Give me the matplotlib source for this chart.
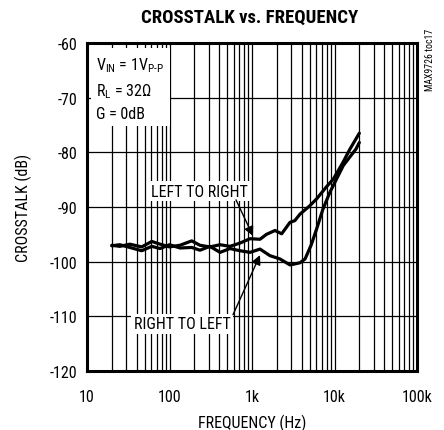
import matplotlib
matplotlib.use("Agg")
import matplotlib.pyplot as plt
from matplotlib.ticker import FixedLocator, NullFormatter

plt.rcParams['font.family'] = ['Roboto Condensed', 'Archivo Narrow', 'Liberation Sans', 'DejaVu Sans']
plt.rcParams['axes.unicode_minus'] = False
plt.rcParams['mathtext.fontset'] = 'custom'
plt.rcParams['mathtext.rm'] = 'Roboto Condensed'
plt.rcParams['mathtext.it'] = 'Roboto Condensed'

# Data (frequency in Hz, crosstalk in dB)
freq_lr = [20, 25, 33, 46, 61, 77, 100, 134, 186, 234, 309, 410, 540, 715, 946,
           1250, 1500, 1900, 2290, 2890, 3300, 3820, 5000, 6080, 8000, 9670,
           12500, 15400, 20000]
db_lr = [-97.0, -97.2, -96.8, -97.3, -96.3, -96.8, -97.3, -97.0, -96.2, -97.0,
         -97.3, -96.9, -97.2, -96.6, -95.8, -95.9, -95.0, -94.3, -94.9, -92.8,
         -92.5, -91.3, -89.8, -88.5, -86.3, -84.9, -82.0, -79.4, -76.5]

freq_rl = [20, 25, 33, 46, 61, 77, 100, 134, 186, 234, 309, 410, 540, 715, 946,
           1250, 1650, 2180, 2890, 3820, 4400, 5200, 6080, 7200, 8800, 12800,
           18200, 20000]
db_rl = [-97.1, -96.9, -97.4, -98.0, -97.2, -97.6, -96.9, -97.5, -97.4, -97.9,
         -97.2, -98.3, -97.6, -98.0, -98.3, -97.7, -98.9, -99.5, -100.6, -100.2,
         -99.5, -97.0, -94.0, -90.5, -87.3, -82.4, -79.4, -78.2]

xticks = [10, 100, 1000, 10000, 100000]
xtick_labels = ['10', '100', '1k', '10k', '100k']
yticks = [-120, -110, -100, -90, -80, -70, -60]

fig = plt.figure(figsize=(4.44, 4.31), dpi=100)
ax = fig.add_axes([87/444, 1-372/431, 330/444, 328/431])

ax.set_xscale('log')
ax.set_xlim(10, 100000)
ax.set_ylim(-120, -60)

# grid
minor = [m * 10**d for d in range(1, 5) for m in range(2, 10)]
for f in minor + xticks[1:-1]:
    ax.axvline(f, color='black', lw=0.9, zorder=1)
for y in yticks[1:-1]:
    ax.axhline(y, color='black', lw=0.9, zorder=1)

ax.plot(freq_lr, db_lr, color='black', lw=2.3, zorder=4, solid_capstyle='round')
ax.plot(freq_rl, db_rl, color='black', lw=2.3, zorder=4, solid_capstyle='round')

ax.set_xticks(xticks)
ax.set_xticklabels(xtick_labels)
ax.xaxis.set_minor_locator(FixedLocator(minor))
ax.xaxis.set_minor_formatter(NullFormatter())
ax.set_yticks(yticks)
ax.tick_params(axis='both', which='both', length=0, labelsize=11.5)
ax.tick_params(axis='x', pad=13)
ax.tick_params(axis='y', pad=7)
for s in ax.spines.values():
    s.set_linewidth(2.2)
    s.set_zorder(6)

ax.set_xlabel('FREQUENCY (Hz)', fontsize=11.5, labelpad=7)
ax.set_ylabel('CROSSTALK (dB)', fontsize=11.5, labelpad=13)

fig.text(250/444, 1-18/431, 'CROSSTALK vs. FREQUENCY', fontsize=13.5,
         fontweight='bold', ha='center', va='center',
         family=['Roboto Condensed', 'Barlow Condensed', 'Archivo Narrow', 'DejaVu Sans'])

# condition box
ax.text(0.028, 0.962,
        '$\\mathregular{V_{IN}}$ = 1$\\mathregular{V_{P\\text{-}P}}$\n'
        '$\\mathregular{R_L}$ = 32\u03a9\nG = 0dB',
        transform=ax.transAxes, fontsize=11.5, va='top', ha='left',
        linespacing=1.5, zorder=5,
        bbox=dict(facecolor='white', edgecolor='none', pad=4))

# annotations
ax.text(228, -87.1, 'LEFT TO RIGHT', fontsize=11.5, ha='center', va='center',
        zorder=5, bbox=dict(facecolor='white', edgecolor='none', pad=2))
ax.annotate('', xy=(1028, -95.3), xytext=(640, -88.7), zorder=5,
            arrowprops=dict(arrowstyle='-|>', color='black', lw=1.0,
                            mutation_scale=14, shrinkA=0, shrinkB=0))
ax.text(142, -111.4, 'RIGHT TO LEFT', fontsize=11.5, ha='center', va='center',
        zorder=5, bbox=dict(facecolor='white', edgecolor='none', pad=2))
ax.annotate('', xy=(1250, -98.8), xytext=(589, -109.7), zorder=5,
            arrowprops=dict(arrowstyle='-|>', color='black', lw=1.0,
                            mutation_scale=14, shrinkA=0, shrinkB=0))

fig.text(430/444, 1-60/431, 'MAX9726 toc17', fontsize=7, rotation=90,
         ha='center', va='center')

fig.savefig('out.png', dpi=100)
